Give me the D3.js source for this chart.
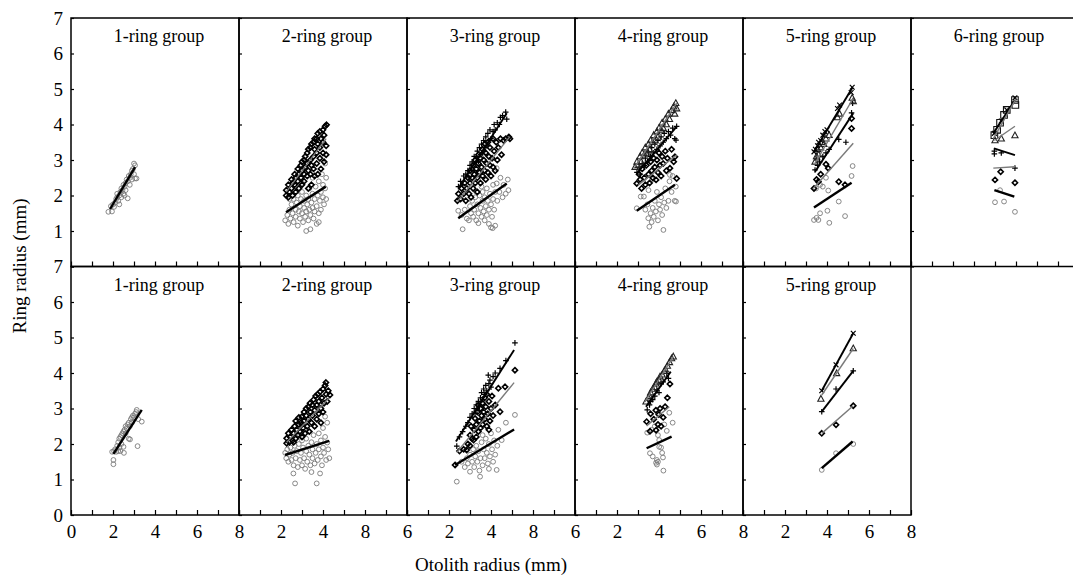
<!DOCTYPE html>
<html>
<head>
<meta charset="utf-8">
<script src="https://cdn.jsdelivr.net/npm/d3@7"></script>
<style>
body { margin: 0; background: #fff; }
</style>
</head>
<body>
<div id="chart"></div>
<script>
// Back-calculated ring radius vs otolith radius, one panel per ring group
// values are [otolith radius, ring radius] in mm

// ---- top row ----
var top1Ring1 = [[1.78,1.54],[1.95,1.55],[1.9,1.7],[2.0,1.75],[2.05,1.68],[2.1,1.8],[2.15,1.9],[2.2,1.95],[2.25,1.85],[2.2,2.05],[2.3,2.0],[2.35,2.1],[2.3,1.75],[2.4,2.2],[2.45,2.15],[2.5,2.3],[2.5,2.05],[2.55,2.25],[2.6,2.35],[2.6,2.15],[2.65,2.45],[2.7,2.4],[2.7,1.92],[2.75,2.55],[2.8,2.5],[2.8,2.3],[2.85,2.6],[2.9,2.7],[2.9,2.45],[2.95,2.75],[3.0,2.9],[3.0,2.6],[3.05,2.85],[3.05,2.48],[3.12,2.48],[2.4,1.95],[2.55,2.0]];
var top1Lines = [[1, 1.86,1.62, 3.05,2.80]];

var top2Ring1 = [[2.2,1.3],[2.3,1.45],[2.35,1.2],[2.4,1.6],[2.45,1.35],[2.5,1.75],[2.55,1.5],[2.6,1.25],[2.6,1.9],[2.7,1.6],[2.7,1.4],[2.75,1.8],[2.8,2.0],[2.8,1.15],[2.85,1.55],[2.9,1.7],[2.9,1.35],[2.95,1.9],[3.0,1.5],[3.0,2.1],[3.05,1.25],[3.1,1.65],[3.1,1.85],[3.15,1.4],[3.2,1.0],[3.2,1.55],[3.2,2.0],[3.25,1.75],[3.3,1.3],[3.3,1.9],[3.35,1.6],[3.35,2.2],[3.4,1.05],[3.4,1.45],[3.45,1.8],[3.5,1.65],[3.5,2.05],[3.55,1.35],[3.6,1.9],[3.6,1.55],[3.65,2.25],[3.7,1.7],[3.7,1.2],[3.75,2.0],[3.8,1.5],[3.8,2.4],[3.85,1.85],[3.9,2.1],[3.9,1.6],[3.95,2.6],[4.0,1.95],[4.0,2.3],[4.05,1.75],[4.1,2.9],[4.1,2.2],[4.15,2.5],[4.15,1.9],[3.0,2.35],[3.5,2.5],[2.4,1.9],[3.8,1.25]];
var top2Ring2 = [[2.25,2.0],[2.25,2.15],[2.35,2.3],[2.35,1.95],[2.4,2.1],[2.5,2.45],[2.5,2.2],[2.55,2.0],[2.55,2.35],[2.65,2.6],[2.65,2.3],[2.7,2.1],[2.7,2.5],[2.8,2.75],[2.8,2.4],[2.85,2.6],[2.85,2.2],[2.95,2.85],[2.95,2.5],[3.0,2.7],[3.0,2.3],[3.0,2.95],[3.1,3.0],[3.1,2.6],[3.1,2.4],[3.15,2.8],[3.15,3.1],[3.25,3.2],[3.25,2.9],[3.25,2.55],[3.3,2.7],[3.3,3.3],[3.3,2.2],[3.4,3.35],[3.4,3.0],[3.4,2.6],[3.45,2.85],[3.45,3.45],[3.45,2.3],[3.55,3.5],[3.55,3.1],[3.55,2.75],[3.6,3.3],[3.6,2.55],[3.6,3.6],[3.7,3.6],[3.7,3.2],[3.7,2.9],[3.75,3.45],[3.75,3.75],[3.75,2.6],[3.85,3.8],[3.85,3.35],[3.85,3.05],[3.9,3.6],[3.9,2.75],[4.0,3.85],[4.0,3.5],[4.0,3.2],[4.05,3.7],[4.05,2.95],[4.1,3.95],[4.17,3.99],[4.15,3.4],[4.15,3.15]];
var top2Lines = [[2, 2.25,2.1, 4.15,3.6], [1, 2.24,1.53, 4.13,2.25]];

var top3Ring1 = [[2.44,1.57],[2.6,1.45],[2.65,1.05],[2.75,1.6],[2.85,1.35],[2.95,1.3],[3.0,1.7],[3.05,1.5],[3.1,1.85],[3.15,1.4],[3.2,1.6],[3.25,1.95],[3.3,1.3],[3.35,1.75],[3.4,1.22],[3.4,1.5],[3.45,2.0],[3.5,1.65],[3.55,1.4],[3.6,1.85],[3.6,2.1],[3.65,1.55],[3.7,1.3],[3.7,1.95],[3.75,1.7],[3.8,2.2],[3.8,1.45],[3.85,1.85],[3.9,1.2],[3.9,1.6],[3.95,2.05],[4.0,1.75],[4.0,1.1],[4.05,1.4],[4.08,1.08],[4.1,1.9],[4.1,2.3],[4.15,1.6],[4.2,1.15],[4.2,2.1],[4.27,2.34],[4.27,2.77],[4.3,1.85],[4.4,2.1],[4.45,2.5],[4.55,1.95],[4.6,2.3],[4.7,2.05],[4.83,2.15],[4.8,2.45],[3.3,2.1],[3.55,2.25]];
var top3Ring2 = [[2.4,1.85],[2.45,2.05],[2.55,1.9],[2.6,2.2],[2.7,2.05],[2.75,2.35],[2.8,1.85],[2.85,2.2],[2.9,2.5],[2.95,2.05],[3.0,2.35],[3.0,2.7],[3.05,1.95],[3.1,2.5],[3.15,2.2],[3.15,2.85],[3.2,2.6],[3.25,2.35],[3.25,3.0],[3.3,2.75],[3.35,2.1],[3.35,2.5],[3.4,2.9],[3.4,3.15],[3.45,2.65],[3.5,2.35],[3.5,3.05],[3.55,2.8],[3.6,3.3],[3.6,2.55],[3.65,3.0],[3.7,2.7],[3.7,3.45],[3.75,2.45],[3.75,3.2],[3.8,2.9],[3.85,3.5],[3.85,2.65],[3.9,3.1],[3.95,2.85],[3.95,3.35],[4.0,2.55],[4.05,3.05],[4.1,3.6],[4.1,2.8],[4.15,3.25],[4.2,2.7],[4.25,3.5],[4.3,3.0],[4.35,3.35],[4.45,3.6],[4.5,3.15],[4.6,3.55],[4.7,3.6],[4.85,3.65],[4.9,3.6]];
var top3Ring3 = [[2.45,2.25],[2.55,2.4],[2.65,2.3],[2.7,2.55],[2.8,2.6],[2.9,2.7],[2.95,2.5],[3.0,2.85],[3.1,2.95],[3.15,2.7],[3.2,3.1],[3.3,3.05],[3.35,3.25],[3.4,2.95],[3.45,3.35],[3.5,3.15],[3.55,3.45],[3.6,3.2],[3.65,3.55],[3.7,3.35],[3.75,3.65],[3.8,3.4],[3.85,3.75],[3.9,3.55],[3.95,3.85],[4.0,3.6],[4.1,3.8],[4.15,4.0],[4.2,3.85],[4.3,4.05],[4.4,4.0],[4.45,4.2],[4.55,4.25],[4.7,4.35],[4.75,4.15]];
var top3Lines = [[1, 2.44,1.36, 4.75,2.34], [2, 2.4,1.83, 4.9,3.66], [3, 2.44,2.2, 4.75,4.32]];

var top4Ring1 = [[2.94,1.64],[3.13,1.97],[3.28,1.97],[3.35,1.6],[3.45,1.75],[3.49,1.36],[3.54,1.12],[3.6,1.5],[3.65,1.25],[3.7,1.65],[3.75,1.4],[3.8,1.85],[3.85,1.55],[3.9,2.1],[3.95,1.3],[4.0,1.75],[4.05,1.6],[4.1,1.95],[4.15,1.45],[4.21,1.03],[4.25,1.8],[4.3,2.2],[4.35,1.65],[4.45,1.85],[4.5,2.4],[4.52,2.58],[4.6,2.1],[4.65,2.55],[4.75,1.85],[4.81,1.83],[4.8,2.25],[3.5,2.15],[3.7,2.45]];
var top4Ring2 = [[2.94,2.34],[3.05,2.6],[3.1,2.45],[3.17,2.2],[3.2,2.75],[3.3,2.5],[3.35,2.3],[3.4,2.85],[3.5,2.6],[3.55,2.35],[3.6,2.95],[3.65,2.7],[3.7,2.5],[3.75,3.05],[3.8,2.8],[3.86,2.44],[3.9,3.0],[3.95,2.65],[4.0,3.2],[4.05,2.85],[4.1,2.55],[4.15,3.1],[4.2,2.9],[4.3,3.25],[4.35,2.7],[4.4,3.05],[4.52,2.77],[4.6,3.3],[4.7,2.95],[4.76,3.09],[4.84,2.48]];
var top4Ring3 = [[2.95,2.65],[3.05,2.8],[3.1,2.6],[3.2,2.9],[3.3,2.85],[3.35,3.05],[3.45,2.95],[3.5,3.2],[3.6,3.1],[3.65,3.35],[3.75,3.2],[3.8,3.45],[3.9,3.3],[3.95,3.55],[4.05,3.4],[4.1,3.65],[4.2,3.5],[4.25,3.75],[4.35,3.6],[4.45,3.8],[4.55,3.7],[4.65,3.9],[4.75,3.6],[4.81,3.56],[4.84,3.95]];
var top4Ring4 = [[2.86,2.8],[2.95,2.95],[3.0,2.85],[3.1,3.1],[3.15,2.95],[3.2,3.2],[3.3,3.15],[3.35,3.35],[3.4,3.2],[3.5,3.45],[3.55,3.3],[3.6,3.55],[3.7,3.5],[3.75,3.7],[3.8,3.55],[3.9,3.8],[3.95,3.65],[4.0,3.9],[4.1,3.85],[4.15,4.05],[4.2,3.9],[4.3,4.15],[4.35,4.0],[4.45,4.3],[4.5,4.15],[4.6,4.4],[4.7,4.5],[4.75,4.3],[4.8,4.6],[4.84,4.45]];
var top4Lines = [[1, 2.94,1.57, 4.76,2.30], [2, 3.02,2.3, 4.84,3.14], [3, 2.94,2.62, 4.84,3.94], [4, 2.86,2.81, 4.84,4.6]];

var top5Ring1 = [[3.38,1.31],[3.5,1.37],[3.59,1.31],[3.67,1.5],[4.02,1.57],[4.11,1.23],[4.56,1.83],[4.86,1.42],[5.17,2.55],[5.22,2.83],[3.48,2.2],[3.67,2.3],[3.95,2.5],[4.06,2.14],[3.8,2.25],[3.6,2.4]];
var top5Ring2 = [[3.38,2.2],[3.5,2.45],[3.59,2.39],[3.7,2.6],[3.95,2.88],[4.06,2.77],[4.56,2.39],[4.86,2.3],[5.17,3.89],[5.17,4.17]];
var top5Ring3 = [[3.43,2.72],[3.55,2.85],[3.65,2.95],[3.95,3.2],[4.1,3.3],[4.56,3.58],[4.9,3.5],[5.17,4.33],[5.22,4.6],[3.5,3.0],[3.8,3.1]];
var top5Ring4 = [[3.43,2.95],[3.5,3.1],[3.6,3.15],[3.7,3.35],[3.85,3.45],[3.95,3.6],[4.1,3.7],[4.5,4.2],[4.6,4.3],[5.2,4.75],[5.25,4.65],[3.55,3.3],[3.75,3.5]];
var top5Ring5 = [[3.38,3.23],[3.45,3.3],[3.55,3.4],[3.6,3.5],[3.7,3.55],[3.8,3.7],[3.9,3.8],[4.0,3.85],[4.5,4.45],[4.6,4.55],[5.2,5.05],[5.15,4.9]];
var top5Lines = [[1, 3.38,1.66, 5.17,2.36], [2, 3.38,2.22, 5.25,3.47], [3, 3.43,2.67, 5.25,4.32], [4, 3.43,2.91, 5.25,4.74], [5, 3.38,3.23, 5.22,5.05]];

var top6Ring1 = [[4.0,1.81],[4.43,1.83],[4.95,1.54],[4.24,2.15]];
var top6Ring2 = [[4.0,2.44],[4.27,2.67],[4.95,2.36]];
var top6Ring3 = [[3.97,3.17],[3.97,3.25],[4.95,2.77],[4.3,3.2]];
var top6Ring4 = [[4.95,3.69],[4.0,3.55],[4.3,3.6]];
var top6Ring5 = [[3.97,3.75],[4.3,4.1],[4.56,4.41],[4.95,4.75]];
var top6Ring6 = [[3.97,3.7],[4.1,3.85],[4.24,4.05],[4.43,4.27],[4.56,4.41],[4.95,4.69],[4.97,4.55]];
var top6Lines = [[1, 3.97,2.15, 4.92,1.97], [2, 3.92,2.77, 4.95,2.81], [3, 3.95,3.33, 4.95,3.14], [4, 3.97,3.55, 4.95,3.95], [5, 3.92,3.75, 4.95,4.69], [6, 3.92,3.6, 5.0,4.72]];

// ---- bottom row ----
var bot1Ring1 = [[2.02,1.55],[2.02,1.43],[1.96,1.78],[2.05,1.8],[2.1,1.85],[2.15,1.78],[2.2,1.95],[2.25,1.8],[2.25,2.05],[2.3,1.9],[2.3,2.15],[2.35,2.2],[2.4,2.0],[2.4,2.25],[2.45,2.3],[2.5,1.92],[2.5,2.35],[2.55,2.4],[2.6,2.3],[2.6,2.5],[2.65,2.45],[2.7,2.55],[2.75,2.15],[2.75,2.6],[2.8,2.5],[2.81,2.13],[2.85,2.7],[2.9,2.75],[2.9,2.6],[2.95,2.8],[3.0,2.75],[3.05,2.85],[3.1,2.9],[3.13,2.96],[3.17,1.94],[3.2,2.7],[3.37,2.63],[2.52,1.75],[2.35,1.8]];
var bot1Lines = [[1, 2.02,1.72, 3.37,2.96]];

var bot2Ring1 = [[2.2,1.75],[2.25,1.6],[2.3,1.85],[2.35,1.5],[2.4,1.7],[2.45,1.9],[2.5,1.55],[2.55,1.75],[2.59,1.17],[2.6,1.4],[2.65,1.95],[2.67,0.89],[2.7,1.6],[2.75,1.8],[2.8,1.35],[2.85,2.0],[2.9,1.55],[2.95,1.75],[3.0,1.4],[3.0,2.1],[3.05,1.9],[3.1,1.6],[3.15,1.3],[3.2,1.8],[3.2,2.15],[3.25,1.5],[3.3,1.95],[3.35,1.7],[3.4,1.4],[3.45,1.21],[3.45,2.05],[3.5,1.6],[3.5,1.85],[3.55,2.25],[3.6,1.45],[3.65,1.75],[3.7,0.89],[3.7,2.0],[3.75,1.55],[3.8,2.3],[3.8,1.85],[3.86,1.17],[3.9,1.65],[3.9,2.1],[3.95,1.4],[4.0,1.9],[4.0,2.45],[4.05,1.75],[4.1,2.77],[4.1,2.2],[4.15,1.55],[4.2,2.04],[4.2,2.6],[4.25,1.85],[4.3,1.6],[2.9,2.25],[3.3,2.35],[3.6,2.5]];
var bot2Ring2 = [[2.27,2.02],[2.27,2.16],[2.35,2.3],[2.4,2.05],[2.45,2.2],[2.5,2.4],[2.55,2.1],[2.6,2.3],[2.65,2.5],[2.7,2.15],[2.7,2.65],[2.75,2.4],[2.8,2.25],[2.85,2.55],[2.85,2.75],[2.9,2.35],[2.95,2.6],[2.99,2.77],[3.0,2.2],[3.05,2.45],[3.1,2.9],[3.1,2.65],[3.15,2.3],[3.2,2.8],[3.2,3.0],[3.25,2.5],[3.3,2.7],[3.3,3.05],[3.35,2.35],[3.38,3.15],[3.4,2.9],[3.45,2.6],[3.5,3.1],[3.5,2.8],[3.55,3.25],[3.6,2.5],[3.6,2.95],[3.65,3.35],[3.7,2.7],[3.7,3.1],[3.75,3.4],[3.8,2.85],[3.8,3.2],[3.86,3.47],[3.9,3.0],[3.9,2.6],[3.95,3.3],[4.0,3.55],[4.0,2.9],[4.05,3.15],[4.1,3.65],[4.14,3.73],[4.15,3.4],[4.2,3.2],[4.25,3.5],[4.33,3.38],[3.0,2.55],[2.6,2.05]];
var bot2Lines = [[2, 2.27,2.05, 4.3,3.3], [1, 2.19,1.69, 4.3,2.09]];

var bot3Ring1 = [[2.37,0.94],[2.6,1.5],[2.75,1.35],[2.85,1.6],[2.9,1.45],[3.0,1.22],[3.0,1.7],[3.1,1.5],[3.15,1.85],[3.2,1.35],[3.25,1.65],[3.3,1.95],[3.35,1.5],[3.4,1.8],[3.45,1.25],[3.48,1.08],[3.5,1.6],[3.55,2.05],[3.6,1.4],[3.65,1.85],[3.7,1.6],[3.75,2.15],[3.8,1.75],[3.85,1.45],[3.9,2.0],[3.95,1.65],[4.0,2.3],[4.05,1.85],[4.1,1.5],[4.15,2.1],[4.2,1.7],[4.27,1.27],[4.3,1.95],[4.35,2.4],[4.51,2.11],[4.71,2.6],[5.14,2.82],[3.6,2.25],[3.9,1.3]];
var bot3Ring2 = [[2.29,1.41],[2.5,1.8],[2.7,1.85],[2.84,1.83],[2.9,2.0],[3.0,2.25],[3.0,1.95],[3.05,2.5],[3.1,2.15],[3.17,2.11],[3.2,2.4],[3.24,2.72],[3.3,2.2],[3.3,2.55],[3.35,2.9],[3.4,2.35],[3.45,2.65],[3.5,3.0],[3.5,2.45],[3.55,2.8],[3.6,3.15],[3.6,2.55],[3.65,2.9],[3.7,3.3],[3.7,2.7],[3.75,3.05],[3.8,2.5],[3.8,3.4],[3.85,2.85],[3.9,3.2],[3.95,2.65],[4.0,3.0],[4.05,3.35],[4.1,2.8],[4.2,3.1],[4.35,3.57],[4.43,2.91],[4.67,3.61],[5.14,4.08],[3.4,3.1],[3.9,2.4]];
var bot3Ring3 = [[2.37,1.94],[2.5,2.2],[2.65,2.35],[2.8,2.5],[2.9,2.6],[3.0,2.75],[3.1,2.85],[3.2,3.0],[3.25,2.9],[3.3,3.1],[3.4,3.2],[3.45,3.05],[3.5,3.3],[3.55,3.45],[3.6,3.25],[3.65,3.55],[3.7,3.4],[3.75,3.65],[3.8,3.5],[3.87,3.94],[3.9,3.7],[3.95,3.8],[4.0,3.6],[4.1,3.9],[4.2,4.0],[4.43,4.13],[4.71,4.35],[5.14,4.85]];
var bot3Lines = [[1, 2.29,1.41, 5.1,2.41], [2, 2.37,1.76, 5.1,3.73], [3, 2.33,2.07, 5.1,4.65]];

var bot4Ring1 = [[3.57,1.74],[3.7,1.65],[3.86,1.47],[3.95,1.5],[4.21,1.25],[3.9,1.55],[4.19,1.62],[4.01,2.11],[4.37,2.37],[4.65,2.6],[4.49,2.88],[3.44,2.32],[3.8,2.5],[4.01,1.92],[4.1,1.9],[3.9,1.42],[4.15,1.75],[3.65,2.4],[3.95,2.25],[4.25,2.55]];
var bot4Ring2 = [[3.41,2.63],[3.57,2.36],[3.86,2.39],[3.95,2.55],[3.99,2.83],[4.29,3.05],[4.05,3.0],[4.52,3.69],[3.75,2.7],[4.1,2.5],[3.6,2.85],[4.2,2.75],[4.4,3.3],[3.85,2.95]];
var bot4Ring3 = [[3.44,2.96],[3.55,3.1],[3.7,3.25],[3.8,3.35],[3.9,3.5],[4.0,3.45],[4.1,3.7],[4.2,3.75],[4.37,3.99],[4.45,3.85],[3.6,3.2]];
var bot4Ring4 = [[3.38,3.19],[3.5,3.3],[3.6,3.45],[3.7,3.55],[3.8,3.6],[3.9,3.75],[4.05,3.9],[4.15,3.95],[4.3,4.1],[4.4,4.2],[4.5,4.3],[4.6,4.41],[4.68,4.46],[3.55,3.35],[3.85,3.7],[4.0,3.8],[4.25,4.05]];
var bot4Lines = [[1, 3.41,1.88, 4.6,2.21], [2, 3.41,2.51, 4.49,3.05], [3, 3.38,3.05, 4.56,4.04], [4, 3.33,3.19, 4.68,4.46]];

var bot5Ring1 = [[3.75,1.27],[4.43,1.74],[5.25,2.0]];
var bot5Ring2 = [[3.75,2.3],[4.43,2.54],[5.25,3.08]];
var bot5Ring3 = [[3.75,2.91],[4.43,3.55],[5.25,4.06]];
var bot5Ring4 = [[3.71,3.27],[4.46,3.99],[5.25,4.69]];
var bot5Ring5 = [[3.75,3.5],[4.43,4.23],[5.25,5.12]];
var bot5Lines = [[1, 3.75,1.32, 5.22,2.07], [2, 3.75,2.3, 5.25,3.08], [3, 3.75,2.91, 5.25,4.06], [4, 3.75,3.38, 5.25,4.69], [5, 3.75,3.5, 5.25,5.12]];

var groupTitles = ["1-ring group", "2-ring group", "3-ring group", "4-ring group", "5-ring group", "6-ring group"];
var xTickValues = [0, 2, 4, 6, 8];
// bottom-row tick labels exactly as printed in the figure
var xTickText = [["0","2","4","6","8"], ["","2","4","8","6"], ["","2","4","8","6"], ["","2","4","6","8"], ["","2","4","6","8"]];

var panels = [
    {row: 0, col: 0, rings: [top1Ring1], lines: top1Lines},
    {row: 0, col: 1, rings: [top2Ring1, top2Ring2], lines: top2Lines},
    {row: 0, col: 2, rings: [top3Ring1, top3Ring2, top3Ring3], lines: top3Lines},
    {row: 0, col: 3, rings: [top4Ring1, top4Ring2, top4Ring3, top4Ring4], lines: top4Lines},
    {row: 0, col: 4, rings: [top5Ring1, top5Ring2, top5Ring3, top5Ring4, top5Ring5], lines: top5Lines},
    {row: 0, col: 5, rings: [top6Ring1, top6Ring2, top6Ring3, top6Ring4, top6Ring5, top6Ring6], lines: top6Lines},
    {row: 1, col: 0, rings: [bot1Ring1], lines: bot1Lines},
    {row: 1, col: 1, rings: [bot2Ring1, bot2Ring2], lines: bot2Lines},
    {row: 1, col: 2, rings: [bot3Ring1, bot3Ring2, bot3Ring3], lines: bot3Lines},
    {row: 1, col: 3, rings: [bot4Ring1, bot4Ring2, bot4Ring3, bot4Ring4], lines: bot4Lines},
    {row: 1, col: 4, rings: [bot5Ring1, bot5Ring2, bot5Ring3, bot5Ring4, bot5Ring5], lines: bot5Lines}
];

var width = 1073, height = 576;
var left0 = 71, panelW = 168, panelH = 248.5;
var rowTop = [18, 266.5];
var font = "'Liberation Serif', 'Times New Roman', serif";

// marker shapes per ring: circle, diamond, plus, triangle, cross, square
var markerPath = [
    "M2.4,0A2.4,2.4 0 1,1 -2.4,0A2.4,2.4 0 1,1 2.4,0Z",
    "M0,-2.6L2.6,0L0,2.6L-2.6,0Z",
    "M-2.8,0H2.8M0,-2.8V2.8",
    "M0,-3.4L3.1,2.3L-3.1,2.3Z",
    "M-2.4,-2.4L2.4,2.4M-2.4,2.4L2.4,-2.4",
    "M-3.3,-3.3H3.3V3.3H-3.3Z"
];
var markerColor = ["#7a7a7a", "#000", "#000", "#222", "#000", "#111"];
var markerWidth = [0.9, 1.6, 1.2, 1.1, 1.2, 1.1];
var lineColor = ["#000", "#7a7a7a", "#000", "#7a7a7a", "#000", "#7a7a7a"];
var lineWidth = [2.4, 1.4, 1.9, 1.4, 1.9, 1.4];

var svg = d3.select("#chart")
    .append("svg")
    .attr("width", width)
    .attr("height", height)
    .style("font-family", font);

var x = d3.scaleLinear().domain([0, 8]).range([0, panelW]);
var y = d3.scaleLinear().domain([0, 7]).range([panelH, 0]);

panels.forEach(function(p) {
    var g = svg.append("g")
        .attr("transform", "translate(" + (left0 + p.col * panelW) + "," + rowTop[p.row] + ")");

    // inward ticks along the bottom
    var xa = g.append("g")
        .attr("transform", "translate(0," + panelH + ")")
        .call(d3.axisBottom(x).tickValues(d3.range(0, 9)).tickSizeInner(-5).tickSizeOuter(0).tickPadding(10)
            .tickFormat(function(d) {
                if (p.row == 0) return "";
                var k = xTickValues.indexOf(d);
                return k < 0 ? "" : xTickText[p.col][k];
            }));
    xa.select(".domain").remove();
    xa.selectAll("line").attr("stroke", "#000").attr("stroke-width", 1.2);
    xa.selectAll("text").attr("font-family", font).attr("font-size", 19).attr("fill", "#000");

    // inward ticks along the left side
    var ya = g.append("g")
        .call(d3.axisLeft(y).tickValues(d3.range(0, 8)).tickSizeInner(-3).tickSizeOuter(0).tickPadding(8)
            .tickFormat(function(d) {
                if (p.col != 0) return "";
                if (p.row == 0 && d == 0) return "";
                return d;
            }));
    ya.select(".domain").remove();
    ya.selectAll("line").attr("stroke", "#000").attr("stroke-width", 1.2);
    ya.selectAll("text").attr("font-family", font).attr("font-size", 19).attr("fill", "#000");

    // points
    p.rings.forEach(function(pts, r) {
        g.append("g").selectAll("path")
            .data(pts)
            .enter().append("path")
            .attr("transform", function(d) { return "translate(" + x(d[0]) + "," + y(d[1]) + ")"; })
            .attr("d", markerPath[r])
            .attr("fill", "none")
            .attr("stroke", markerColor[r])
            .attr("stroke-width", markerWidth[r]);
    });

    // fitted lines per ring
    g.append("g").selectAll("line")
        .data(p.lines)
        .enter().append("line")
        .attr("x1", function(d) { return x(d[1]); })
        .attr("y1", function(d) { return y(d[2]); })
        .attr("x2", function(d) { return x(d[3]); })
        .attr("y2", function(d) { return y(d[4]); })
        .attr("stroke", function(d) { return lineColor[d[0] - 1]; })
        .attr("stroke-width", function(d) { return lineWidth[d[0] - 1]; });

    g.append("rect")
        .attr("width", panelW)
        .attr("height", panelH)
        .attr("fill", "none")
        .attr("stroke", "#000")
        .attr("stroke-width", 1.5);

    g.append("text")
        .attr("x", panelW / 2 + 4)
        .attr("y", 24)
        .attr("text-anchor", "middle")
        .attr("font-size", 18)
        .text(groupTitles[p.col]);
});

svg.append("text")
    .attr("transform", "translate(26,266) rotate(-90)")
    .attr("text-anchor", "middle")
    .attr("font-size", 19)
    .text("Ring radius (mm)");

svg.append("text")
    .attr("x", 491)
    .attr("y", 571)
    .attr("text-anchor", "middle")
    .attr("font-size", 19)
    .text("Otolith radius (mm)");
</script>
</body>
</html>
